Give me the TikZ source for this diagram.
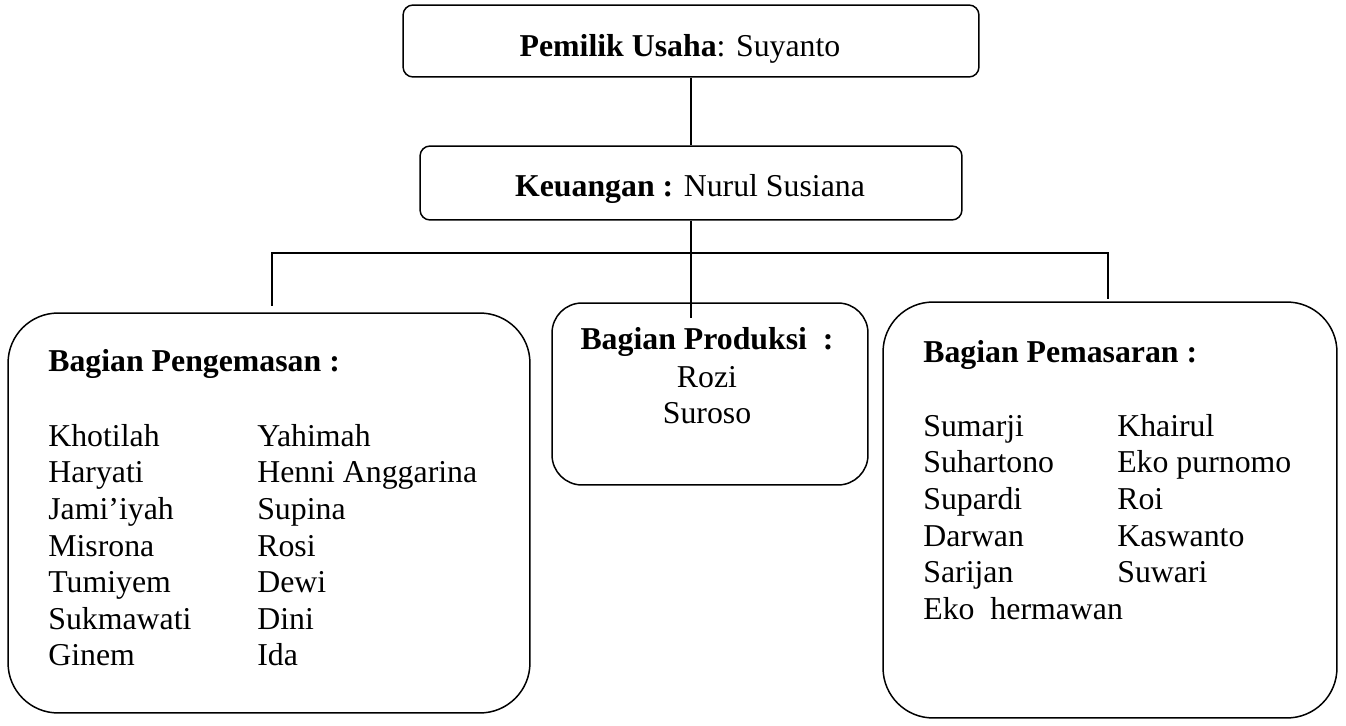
\documentclass[tikz,border=0pt]{standalone}
\usepackage{fontspec}
\setmainfont{Liberation Serif}
\newcommand{\namepair}[3]{%
    \makebox[#1][l]{#2}#3%
}

\begin{document}
\begin{tikzpicture}[
    x=0.02cm,
    y=-0.02cm,
    unit/.style={
        rectangle,
        draw,
        line width=0.85pt,
        inner sep=0pt
    },
    heading/.style={
        inner sep=0pt,
        font=\fontsize{18.1pt}{20.8pt}\selectfont
    },
    names/.style={
        inner sep=0pt,
        align=left,
        anchor=north west,
        font=\fontsize{18.1pt}{20.8pt}\selectfont
    },
    link/.style={
        line width=0.85pt
    }
]

\useasboundingbox (0,0) rectangle (1346,726);

% units

\node[unit, rounded corners=0.2cm, minimum width=11.52cm, minimum height=1.44cm]
    (owner) at (691,41) {};

\node[unit, rounded corners=0.2cm, minimum width=10.84cm, minimum height=1.48cm]
    (finance) at (691,183) {};

\node[unit, rounded corners=1cm, minimum width=10.44cm, minimum height=8cm]
    (packing) at (269,513) {};

\node[unit, rounded corners=0.6cm, minimum width=6.32cm, minimum height=3.64cm]
    (production) at (710,394) {};

\node[unit, rounded corners=1cm, minimum width=9.08cm, minimum height=8.32cm]
    (marketing) at (1110,510) {};

% texts

\node[heading, anchor=base] (ownertext) at (680,57) {
    \textbf{Pemilik Usaha}: Suyanto
};

\node[heading, anchor=base] (financetext) at (690,197) {
    \textbf{Keuangan :} Nurul Susiana
};

\node[heading, anchor=base west] (packingtitle) at (48,372) {
    \textbf{Bagian Pengemasan :}
};

\node[names] (packingnames) at (48,424) {
    \namepair{4.18cm}{Khotilah}{Yahimah}\\
    \namepair{4.18cm}{Haryati}{Henni Anggarina}\\
    \namepair{4.18cm}{Jami’iyah}{Supina}\\
    \namepair{4.18cm}{Misrona}{Rosi}\\
    \namepair{4.18cm}{Tumiyem}{Dewi}\\
    \namepair{4.18cm}{Sukmawati}{Dini}\\
    \namepair{4.18cm}{Ginem}{Ida}
};

\node[heading, anchor=base] (productiontitle) at (707,350) {
    \textbf{Bagian Produksi\ \ :}
};

\node[names, align=center, anchor=north] (productionnames) at (707,366) {
    Rozi\\
    Suroso
};

\node[heading, anchor=base west] (marketingtitle) at (923,362) {
    \textbf{Bagian Pemasaran :}
};

\node[names] (marketingnames) at (923,414) {
    \namepair{3.88cm}{Sumarji}{Khairul}\\
    \namepair{3.88cm}{Suhartono}{Eko purnomo}\\
    \namepair{3.88cm}{Supardi}{Roi}\\
    \namepair{3.88cm}{Darwan}{Kaswanto}\\
    \namepair{3.88cm}{Sarijan}{Suwari}\\
    Eko\ \ hermawan
};

% connectors

\coordinate (production tip) at (691,318);
\coordinate (packing tip) at (272,306);
\coordinate (marketing tip) at (1108,299);
\coordinate (bar west) at (272,253);
\coordinate (bar east) at (1108,253);

\draw[link] (owner.south) -- (finance.north);

\draw[link] (finance.south) -- (production tip);

\draw[link]
    (packing tip) --
    (bar west) --
    (bar east) --
    (marketing tip);

\end{tikzpicture}
\end{document}
